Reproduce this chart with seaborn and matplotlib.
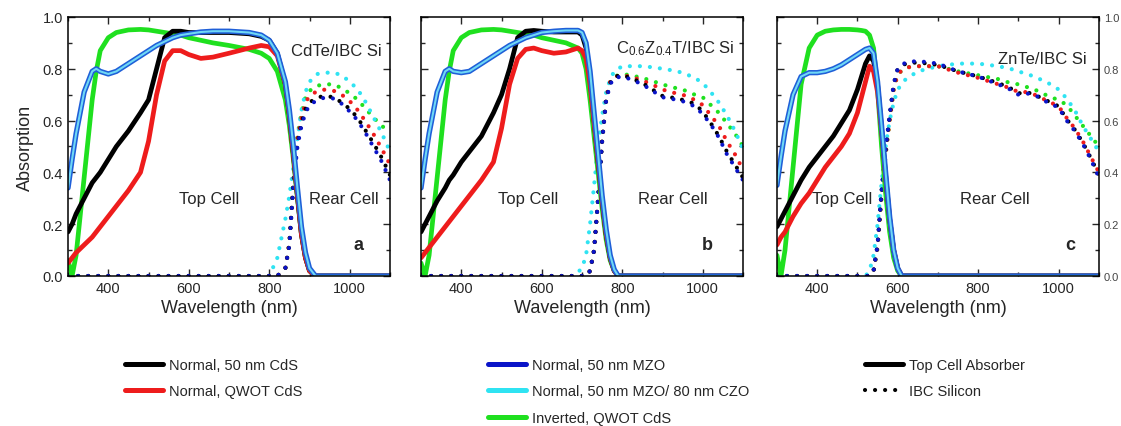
import matplotlib
matplotlib.use("Agg")
import matplotlib.pyplot as plt
from matplotlib.lines import Line2D
from matplotlib.ticker import MultipleLocator
import seaborn as sns

# ---- panel a: CdTe / IBC Si (top cell curves) ----
wl_a = [300, 310, 320, 340, 360, 370, 380, 400, 420, 450, 480, 500, 520, 540, 560, 580, 600,
        630, 660, 700, 750, 780, 800, 820, 840, 850, 860, 870, 880, 890, 900, 915, 1100]
a_black = [0.17, 0.20, 0.24, 0.30, 0.36, 0.38, 0.40, 0.45, 0.50, 0.56, 0.63, 0.68, 0.80, 0.92, 0.945, 0.945, 0.94,
           0.94, 0.94, 0.94, 0.935, 0.925, 0.91, 0.86, 0.74, 0.62, 0.47, 0.31, 0.16, 0.07, 0.02, 0.0, 0.0]
a_red = [0.05, 0.07, 0.09, 0.12, 0.15, 0.17, 0.19, 0.23, 0.27, 0.33, 0.40, 0.52, 0.70, 0.83, 0.87, 0.87, 0.855,
         0.84, 0.845, 0.86, 0.88, 0.89, 0.885, 0.85, 0.74, 0.62, 0.47, 0.31, 0.16, 0.07, 0.02, 0.0, 0.0]
a_green = [0.06, 0.0, 0.08, 0.38, 0.68, 0.79, 0.87, 0.92, 0.94, 0.95, 0.952, 0.95, 0.945, 0.94, 0.935, 0.93, 0.92,
           0.91, 0.90, 0.89, 0.875, 0.86, 0.84, 0.79, 0.68, 0.58, 0.45, 0.30, 0.16, 0.07, 0.02, 0.0, 0.0]
a_blue = [0.34, 0.45, 0.55, 0.71, 0.79, 0.80, 0.79, 0.78, 0.79, 0.82, 0.85, 0.87, 0.89, 0.905, 0.92, 0.93, 0.935,
          0.942, 0.945, 0.945, 0.94, 0.93, 0.91, 0.86, 0.75, 0.64, 0.50, 0.34, 0.19, 0.09, 0.03, 0.0, 0.0]
a_cyan = [0.34, 0.45, 0.55, 0.71, 0.79, 0.80, 0.79, 0.78, 0.79, 0.82, 0.85, 0.87, 0.89, 0.905, 0.92, 0.93, 0.935,
          0.942, 0.945, 0.945, 0.94, 0.93, 0.91, 0.86, 0.75, 0.64, 0.50, 0.34, 0.19, 0.09, 0.03, 0.0, 0.0]

# panel a: IBC silicon
si_wl_a = [300, 780, 800, 820, 840, 850, 860, 870, 880, 890, 900, 920, 940, 960, 980, 1000, 1020, 1040, 1060, 1080, 1100]
a_si_black = [0, 0, 0, 0, 0.03, 0.12, 0.36, 0.51, 0.59, 0.645, 0.67, 0.69, 0.695, 0.69, 0.67, 0.645, 0.61, 0.56, 0.51, 0.455, 0.39]
a_si_red = [0, 0, 0, 0, 0.03, 0.13, 0.37, 0.53, 0.61, 0.67, 0.695, 0.715, 0.72, 0.715, 0.70, 0.675, 0.64, 0.595, 0.545, 0.49, 0.43]
a_si_green = [0, 0, 0, 0, 0.03, 0.13, 0.37, 0.54, 0.63, 0.69, 0.715, 0.735, 0.74, 0.74, 0.725, 0.705, 0.68, 0.645, 0.61, 0.58, 0.55]
a_si_blue = [0, 0, 0, 0, 0.03, 0.12, 0.35, 0.50, 0.58, 0.63, 0.66, 0.68, 0.69, 0.685, 0.665, 0.635, 0.60, 0.55, 0.495, 0.44, 0.37]
a_si_cyan = [0, 0, 0, 0.07, 0.22, 0.31, 0.42, 0.53, 0.64, 0.71, 0.75, 0.78, 0.785, 0.785, 0.775, 0.75, 0.72, 0.67, 0.61, 0.55, 0.48]

# ---- panel b: C0.6Z0.4T / IBC Si ----
wl_b = [300, 310, 320, 340, 360, 370, 380, 400, 420, 450, 480, 500, 520, 540, 560, 580, 600,
        630, 660, 690, 700, 710, 720, 730, 740, 750, 760, 770, 780, 790, 1100]
b_black = [0.17, 0.20, 0.23, 0.29, 0.34, 0.37, 0.39, 0.44, 0.48, 0.54, 0.63, 0.70, 0.80, 0.92, 0.945, 0.948, 0.945,
           0.942, 0.942, 0.942, 0.93, 0.88, 0.76, 0.60, 0.44, 0.29, 0.16, 0.07, 0.02, 0.0, 0.0]
b_red = [0.07, 0.09, 0.11, 0.15, 0.19, 0.21, 0.23, 0.27, 0.31, 0.37, 0.44, 0.57, 0.74, 0.84, 0.875, 0.88, 0.87,
         0.86, 0.865, 0.88, 0.87, 0.84, 0.74, 0.59, 0.44, 0.29, 0.16, 0.07, 0.02, 0.0, 0.0]
b_green = [0.05, 0.0, 0.08, 0.38, 0.68, 0.79, 0.87, 0.92, 0.94, 0.95, 0.952, 0.95, 0.945, 0.94, 0.935, 0.93, 0.92,
           0.91, 0.90, 0.88, 0.86, 0.80, 0.68, 0.54, 0.40, 0.26, 0.14, 0.06, 0.02, 0.0, 0.0]
b_blue = [0.34, 0.45, 0.55, 0.71, 0.79, 0.80, 0.79, 0.785, 0.79, 0.82, 0.85, 0.87, 0.89, 0.905, 0.92, 0.93, 0.94,
          0.945, 0.948, 0.948, 0.94, 0.90, 0.79, 0.63, 0.47, 0.31, 0.18, 0.08, 0.025, 0.0, 0.0]
b_cyan = [0.34, 0.45, 0.55, 0.71, 0.79, 0.80, 0.79, 0.785, 0.79, 0.82, 0.85, 0.87, 0.89, 0.905, 0.92, 0.93, 0.94,
          0.945, 0.948, 0.948, 0.94, 0.90, 0.79, 0.63, 0.47, 0.31, 0.18, 0.08, 0.025, 0.0, 0.0]

si_wl_b = [300, 680, 700, 710, 720, 730, 740, 750, 760, 770, 780, 800, 820, 850, 880, 900, 920, 950, 980,
           1000, 1020, 1040, 1060, 1080, 1100]
b_si_black = [0, 0, 0, 0, 0.02, 0.1, 0.3, 0.52, 0.68, 0.745, 0.77, 0.775, 0.765, 0.745, 0.715, 0.695, 0.69, 0.68, 0.665,
              0.635, 0.59, 0.54, 0.48, 0.43, 0.38]
b_si_red = [0, 0, 0, 0, 0.02, 0.1, 0.3, 0.53, 0.69, 0.75, 0.77, 0.775, 0.77, 0.755, 0.735, 0.72, 0.71, 0.70, 0.68,
            0.66, 0.62, 0.58, 0.52, 0.47, 0.41]
b_si_green = [0, 0, 0, 0, 0.02, 0.1, 0.3, 0.53, 0.69, 0.75, 0.77, 0.78, 0.775, 0.765, 0.75, 0.74, 0.73, 0.72, 0.70,
              0.69, 0.66, 0.63, 0.59, 0.55, 0.50]
b_si_blue = [0, 0, 0, 0, 0.02, 0.1, 0.3, 0.52, 0.68, 0.74, 0.765, 0.77, 0.76, 0.74, 0.71, 0.69, 0.685, 0.675, 0.655,
             0.625, 0.585, 0.535, 0.47, 0.42, 0.37]
b_si_cyan = [0, 0, 0.03, 0.08, 0.2, 0.35, 0.5, 0.62, 0.71, 0.76, 0.79, 0.81, 0.81, 0.81, 0.805, 0.80, 0.795, 0.785, 0.765,
             0.745, 0.71, 0.67, 0.62, 0.56, 0.49]

# ---- panel c: ZnTe / IBC Si ----
wl_c = [300, 310, 320, 340, 360, 380, 400, 420, 440, 460, 480, 500, 510, 520, 530, 540, 550, 560, 570, 580, 590, 600, 610, 1100]
c_black = [0.19, 0.22, 0.25, 0.31, 0.37, 0.42, 0.46, 0.50, 0.54, 0.59, 0.64, 0.72, 0.77, 0.82, 0.85, 0.83, 0.74, 0.57,
           0.39, 0.22, 0.10, 0.03, 0.0, 0.0]
c_red = [0.12, 0.15, 0.17, 0.23, 0.28, 0.32, 0.37, 0.42, 0.46, 0.50, 0.55, 0.63, 0.69, 0.75, 0.81, 0.79, 0.71, 0.56,
         0.38, 0.22, 0.10, 0.03, 0.0, 0.0]
c_green = [0.08, 0.0, 0.10, 0.42, 0.74, 0.88, 0.93, 0.945, 0.95, 0.952, 0.952, 0.95, 0.948, 0.945, 0.93, 0.88, 0.72, 0.50,
           0.32, 0.17, 0.07, 0.02, 0.0, 0.0]
c_blue = [0.35, 0.46, 0.56, 0.70, 0.77, 0.785, 0.785, 0.79, 0.80, 0.815, 0.835, 0.855, 0.865, 0.875, 0.88, 0.86, 0.75, 0.58,
          0.40, 0.23, 0.10, 0.03, 0.0, 0.0]
c_cyan = [0.35, 0.46, 0.56, 0.70, 0.77, 0.785, 0.785, 0.79, 0.80, 0.815, 0.835, 0.855, 0.865, 0.875, 0.88, 0.86, 0.75, 0.58,
          0.40, 0.23, 0.10, 0.03, 0.0, 0.0]

si_wl_c = [300, 520, 530, 540, 550, 560, 570, 580, 590, 600, 620, 650, 700, 750, 800, 850, 880, 900, 920, 940, 960, 980,
           1000, 1020, 1040, 1060, 1080, 1100]
c_si_black = [0, 0, 0, 0.02, 0.12, 0.33, 0.49, 0.62, 0.74, 0.80, 0.82, 0.825, 0.815, 0.79, 0.77, 0.745, 0.725, 0.705, 0.71,
              0.70, 0.685, 0.67, 0.655, 0.605, 0.565, 0.515, 0.455, 0.39]
c_si_red = [0, 0, 0, 0.02, 0.11, 0.31, 0.47, 0.60, 0.72, 0.78, 0.805, 0.81, 0.81, 0.785, 0.765, 0.74, 0.725, 0.71, 0.71,
            0.70, 0.685, 0.67, 0.655, 0.61, 0.57, 0.52, 0.46, 0.40]
c_si_green = [0, 0, 0, 0.02, 0.11, 0.31, 0.47, 0.60, 0.72, 0.78, 0.805, 0.81, 0.81, 0.79, 0.775, 0.76, 0.745, 0.74, 0.73,
              0.72, 0.705, 0.69, 0.68, 0.66, 0.62, 0.58, 0.54, 0.50]
c_si_blue = [0, 0, 0, 0.02, 0.12, 0.33, 0.49, 0.62, 0.74, 0.80, 0.825, 0.83, 0.82, 0.79, 0.77, 0.74, 0.72, 0.70, 0.705,
             0.70, 0.68, 0.665, 0.65, 0.60, 0.56, 0.51, 0.45, 0.38]
c_si_cyan = [0, 0, 0.02, 0.08, 0.2, 0.36, 0.5, 0.6, 0.67, 0.72, 0.76, 0.79, 0.81, 0.82, 0.82, 0.81, 0.80, 0.79, 0.78,
             0.77, 0.755, 0.74, 0.72, 0.685, 0.64, 0.58, 0.53, 0.48]

panel_titles = ["CdTe/IBC Si", "C$_{0.6}$Z$_{0.4}$T/IBC Si", "ZnTe/IBC Si"]
panel_letters = ["a", "b", "c"]
series_labels = ["Normal, 50 nm CdS", "Normal, QWOT CdS", "Normal, 50 nm MZO",
                 "Normal, 50 nm MZO/ 80 nm CZO", "Inverted, QWOT CdS"]
colors = {"black": "#000000", "red": "#ee1c1c", "blue": "#0a14c8", "cyan": "#2fe3f2", "green": "#1fe01f"}

sns.set_style("ticks")
plt.rcParams["font.family"] = ["Liberation Sans", "DejaVu Sans"]
plt.rcParams["mathtext.default"] = "regular"

DOT = (0, (0.01, 2.4))

fig = plt.figure(figsize=(11.21, 4.27), dpi=100)
lefts = [0.0607, 0.3756, 0.6931]
axes = [fig.add_axes([l, 0.3513, 0.2872, 0.6066]) for l in lefts]

panels = [
    (wl_a, a_black, a_red, a_green, a_blue, a_cyan,
     si_wl_a, a_si_black, a_si_red, a_si_green, a_si_blue, a_si_cyan),
    (wl_b, b_black, b_red, b_green, b_blue, b_cyan,
     si_wl_b, b_si_black, b_si_red, b_si_green, b_si_blue, b_si_cyan),
    (wl_c, c_black, c_red, c_green, c_blue, c_cyan,
     si_wl_c, c_si_black, c_si_red, c_si_green, c_si_blue, c_si_cyan),
]

# text positions (data coords) per panel
title_x = [1080, 1080, 1070]
title_y = [0.87, 0.88, 0.84]
top_x = [650, 567, 462]
rear_x = [985, 925, 842]
letter_x = [1022, 1011, 1030]

for i, ax in enumerate(axes):
    wl, blk, red, grn, blu, cya, swl, sblk, sred, sgrn, sblu, scya = panels[i]

    # IBC silicon, dotted
    for vals, c in [(sgrn, "green"), (scya, "cyan"), (sred, "red"), (sblk, "black"), (sblu, "blue")]:
        sns.lineplot(x=swl, y=vals, ax=ax, color=colors[c], lw=3.0,
                     linestyle=DOT, dash_capstyle="round")

    # top cell absorber, solid
    sns.lineplot(x=wl, y=grn, ax=ax, color=colors["green"], lw=3.4)
    sns.lineplot(x=wl, y=blk, ax=ax, color=colors["black"], lw=3.4)
    sns.lineplot(x=wl, y=red, ax=ax, color=colors["red"], lw=3.4)
    sns.lineplot(x=wl, y=blu, ax=ax, color="#1f5fd8", lw=3.8)
    sns.lineplot(x=wl, y=cya, ax=ax, color="#6fd8f5", lw=1.5)

    ax.set_xlim(300, 1100)
    ax.set_ylim(0, 1.0)
    ax.xaxis.set_major_locator(MultipleLocator(200))
    ax.xaxis.set_minor_locator(MultipleLocator(100))
    ax.yaxis.set_major_locator(MultipleLocator(0.2))
    ax.yaxis.set_minor_locator(MultipleLocator(0.1))
    ax.tick_params(which="both", direction="in", top=True, right=True, width=1.0)
    ax.tick_params(which="major", length=5, labelsize=10.5)
    ax.tick_params(which="minor", length=3)
    for sp in ax.spines.values():
        sp.set_linewidth(1.1)
        sp.set_color("black")

    ax.set_xlabel("Wavelength (nm)", fontsize=13, labelpad=3)
    ax.set_ylabel("")

    ax.text(title_x[i], title_y[i], panel_titles[i], ha="right", va="center", fontsize=12)
    ax.text(top_x[i], 0.30, "Top Cell", ha="center", va="center", fontsize=12)
    ax.text(rear_x[i], 0.30, "Rear Cell", ha="center", va="center", fontsize=12)
    ax.text(letter_x[i], 0.12, panel_letters[i], ha="center", va="center", fontsize=13, fontweight="bold")

axes[0].yaxis.set_major_formatter(plt.FuncFormatter(lambda v, p: f"{v:.1f}"))
axes[0].set_ylabel("Absorption", fontsize=13, labelpad=6)
axes[1].tick_params(axis="y", labelleft=False)
axes[2].tick_params(axis="y", labelleft=False, labelright=True)
axes[2].tick_params(axis="y", which="major", labelsize=8, labelcolor="#444444")
axes[2].yaxis.set_major_formatter(plt.FuncFormatter(lambda v, p: f"{v:.1f}"))

# legends, three groups
solid = dict(lw=3.6, solid_capstyle="round")
leg_kw = dict(loc="upper left", frameon=False, borderpad=0, borderaxespad=0, fontsize=10.5,
              handlelength=2.6, handletextpad=0.45, labelspacing=0.85)
top_y = 1 - 359 / 427
h1 = [Line2D([], [], color=colors["black"], **solid), Line2D([], [], color=colors["red"], **solid)]
fig.legend(h1, series_labels[:2], bbox_to_anchor=(125 / 1121, top_y), **leg_kw)
h2 = [Line2D([], [], color=colors["blue"], **solid), Line2D([], [], color=colors["cyan"], **solid),
      Line2D([], [], color=colors["green"], **solid)]
fig.legend(h2, series_labels[2:], bbox_to_anchor=(488 / 1121, top_y), **leg_kw)
h3 = [Line2D([], [], color="black", **solid),
      Line2D([], [], color="black", lw=3.0, linestyle=DOT, dash_capstyle="round")]
fig.legend(h3, ["Top Cell Absorber", "IBC Silicon"], bbox_to_anchor=(865 / 1121, top_y), **leg_kw)

fig.savefig("out.png", dpi=100)
plt.close(fig)
